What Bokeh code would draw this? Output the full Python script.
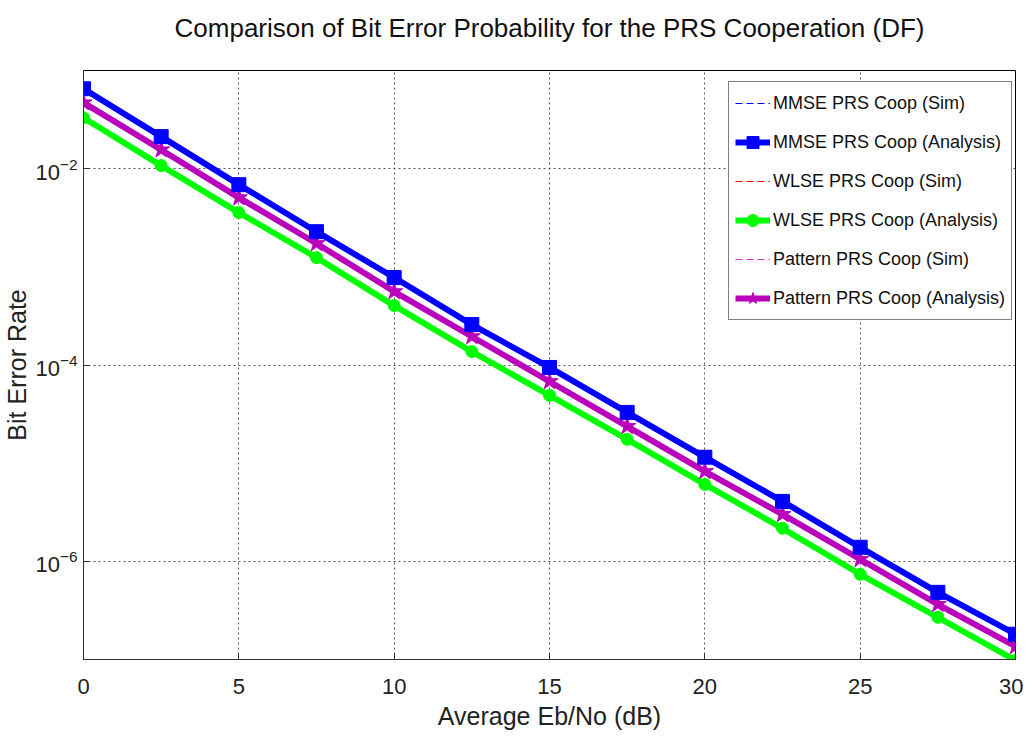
from bokeh.plotting import figure
from bokeh.models import FixedTicker, Legend, LegendItem, Range1d, Title
from bokeh.embed import file_html
from bokeh.resources import INLINE

# ---- data ----
ebno = [0, 2.5, 5, 7.5, 10, 12.5, 15, 17.5, 20, 22.5, 25, 27.5, 30]

mmse_analysis = [6.52e-2, 2.12e-2, 6.87e-3, 2.28e-3, 7.78e-4, 2.58e-4, 9.44e-5,
                 3.29e-5, 1.15e-5, 4.08e-6, 1.39e-6, 4.83e-7, 1.81e-7]
wlse_analysis = [3.30e-2, 1.074e-2, 3.57e-3, 1.24e-3, 4.03e-4, 1.37e-4, 4.90e-5,
                 1.75e-5, 6.08e-6, 2.17e-6, 7.38e-7, 2.69e-7, 9.8e-8]
pattern_analysis = [4.70e-2, 1.56e-2, 5.07e-3, 1.73e-3, 5.60e-4, 1.95e-4, 6.79e-5,
                    2.37e-5, 8.24e-6, 3.01e-6, 1.05e-6, 3.65e-7, 1.36e-7]

mmse_sim = [6.50e-2, 2.11e-2, 6.85e-3, 2.27e-3, 7.75e-4, 2.57e-4, 9.40e-5,
            3.28e-5, 1.15e-5, 4.07e-6, 1.39e-6, 4.82e-7, 1.80e-7]
wlse_sim = [3.29e-2, 1.07e-2, 3.56e-3, 1.24e-3, 4.02e-4, 1.37e-4, 4.89e-5,
            1.75e-5, 6.07e-6, 2.17e-6, 7.37e-7, 2.68e-7, 9.8e-8]
pattern_sim = [4.69e-2, 1.55e-2, 5.06e-3, 1.72e-3, 5.59e-4, 1.95e-4, 6.78e-5,
               2.36e-5, 8.23e-6, 3.00e-6, 1.05e-6, 3.64e-7, 1.36e-7]

x_ticks = [0, 5, 10, 15, 20, 25, 30]
y_ticks = [1e-6, 1e-4, 1e-2]

title_text = "Comparison of Bit Error Probability for the PRS Cooperation (DF)"
x_label = "Average Eb/No (dB)"
y_label = "Bit Error Rate"

FONT = "Liberation Sans"

p = figure(width=1023, height=738, y_axis_type="log",
           x_range=Range1d(0, 30), y_range=Range1d(1e-7, 1e-1),
           output_backend="svg", toolbar_location=None,
           min_border_left=83, min_border_right=8,
           min_border_top=70, min_border_bottom=79)

# title: a blank spacer next to the frame, the real title above it
p.title.visible = False
spacer = Title(text=" ", text_font_size="23px", standoff=0)
main_title = Title(text=title_text, align="center", text_font=FONT,
                   text_font_size="26px", text_font_style="normal",
                   text_color="#111111", standoff=0)
p.add_layout(spacer, "above")
p.add_layout(main_title, "above")

p.outline_line_color = "black"
p.outline_line_width = 1

# axes
p.xaxis.ticker = FixedTicker(ticks=x_ticks, minor_ticks=[])
p.yaxis.ticker = FixedTicker(ticks=y_ticks, minor_ticks=[])
for ax in (p.xaxis, p.yaxis):
    ax.major_tick_in = 6
    ax.major_tick_out = 0
    ax.minor_tick_line_color = None
    ax.axis_line_color = "#333333"
    ax.major_tick_line_color = "#333333"
    ax.major_label_text_font = FONT
    ax.major_label_text_font_size = "22px"
    ax.major_label_text_color = "#222222"
    ax.axis_label_text_font = FONT
    ax.axis_label_text_font_style = "normal"
    ax.axis_label_text_color = "#222222"

p.xaxis.axis_label = x_label
p.xaxis.axis_label_text_font_size = "25px"
p.xaxis.major_label_standoff = 19
p.xaxis.axis_label_standoff = 5

p.yaxis.axis_label = y_label
p.yaxis.axis_label_text_font_size = "25px"
p.yaxis.major_label_standoff = 6
p.yaxis.axis_label_standoff = 1

# grid
for g in (p.xgrid, p.ygrid):
    g.grid_line_color = "#444444"
    g.grid_line_dash = "2 3"
    g.grid_line_width = 1
    g.grid_line_alpha = 0.9

# series
r_mmse_sim = p.line(ebno, mmse_sim, line_color="blue", line_width=1, line_dash="7 4")
r_mmse_l = p.line(ebno, mmse_analysis, line_color="blue", line_width=6)
r_mmse_m = p.scatter(ebno, mmse_analysis, marker="square", size=14,
                     fill_color="blue", line_color="blue")

r_wlse_sim = p.line(ebno, wlse_sim, line_color="red", line_width=1, line_dash="7 4")
r_wlse_l = p.line(ebno, wlse_analysis, line_color="#00ff00", line_width=6)
r_wlse_m = p.scatter(ebno, wlse_analysis, marker="circle", size=12,
                     fill_color="#00ff00", line_color="#00ff00")

r_pat_sim = p.line(ebno, pattern_sim, line_color="#cc33cc", line_width=1, line_dash="7 4")
r_pat_l = p.line(ebno, pattern_analysis, line_color="#bb00bb", line_width=6)
r_pat_m = p.scatter(ebno, pattern_analysis, marker="star", size=18,
                    fill_color="#bb00bb", line_color="#bb00bb")

# draw order: sims first, then analyses on top
p.renderers = [r_mmse_sim, r_wlse_sim, r_pat_sim,
               r_wlse_l, r_wlse_m, r_pat_l, r_pat_m, r_mmse_l, r_mmse_m]

legend = Legend(items=[
    LegendItem(label="MMSE PRS Coop (Sim)", renderers=[r_mmse_sim]),
    LegendItem(label="MMSE PRS Coop (Analysis)", renderers=[r_mmse_l, r_mmse_m]),
    LegendItem(label="WLSE PRS Coop (Sim)", renderers=[r_wlse_sim]),
    LegendItem(label="WLSE PRS Coop (Analysis)", renderers=[r_wlse_l, r_wlse_m]),
    LegendItem(label="Pattern PRS Coop (Sim)", renderers=[r_pat_sim]),
    LegendItem(label="Pattern PRS Coop (Analysis)", renderers=[r_pat_l, r_pat_m]),
], location=(645, 339))
legend.border_line_color = "black"
legend.border_line_width = 1
legend.background_fill_color = "white"
legend.background_fill_alpha = 1
legend.label_text_font = FONT
legend.label_text_font_size = "18px"
legend.label_text_color = "#111111"
legend.glyph_width = 35
legend.glyph_height = 30
legend.label_height = 30
legend.label_standoff = 3
legend.spacing = 9
legend.padding = 6
legend.margin = 0
p.add_layout(legend)

open("out.html", "w").write(file_html(p, INLINE))
